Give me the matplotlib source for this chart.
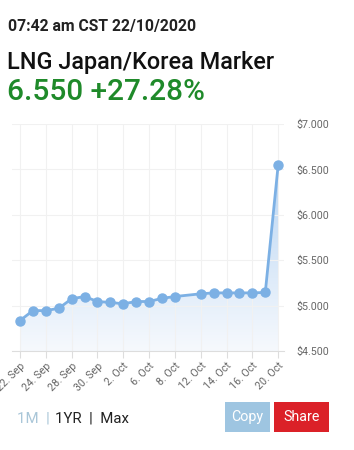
import numpy as np
import matplotlib
import matplotlib.pyplot as plt
from matplotlib.patches import FancyBboxPatch, Polygon
from matplotlib.colors import LinearSegmentedColormap

matplotlib.use("Agg")

# business days 22 Sep .. 20 Oct 2020 (9 Oct missing in the data)
day_idx = [0, 1, 2, 3, 4, 5, 6, 7, 8, 9, 10, 11, 12, 14, 15, 16, 17, 18, 19, 20]
prices = [4.835, 4.945, 4.945, 4.97, 5.075, 5.10, 5.045, 5.035, 5.02, 5.045,
          5.045, 5.08, 5.10, 5.13, 5.14, 5.14, 5.14, 5.14, 5.145, 6.55]
tick_pos = [0, 2, 4, 6, 8, 10, 12, 14, 16, 18, 20]
tick_labels = ["22. Sep", "24. Sep", "28. Sep", "30. Sep", "2. Oct", "6. Oct",
               "8. Oct", "12. Oct", "14. Oct", "16. Oct", "20. Oct"]
y_ticks = [4.5, 5.0, 5.5, 6.0, 6.5, 7.0]

W, H = 354, 450
fig = plt.figure(figsize=(W / 100, H / 100), dpi=100)
plt.rcParams["font.family"] = ["Roboto", "DejaVu Sans"]


def px_box(x0, y0, x1, y1):
    return [x0 / W, 1 - y1 / H, (x1 - x0) / W, (y1 - y0) / H]


# header text
fig.text(8 / W, 1 - 27 / H, "07:42 am CST 22/10/2020", fontsize=11.3,
         fontweight="bold", color="#222222", va="center")
fig.text(7 / W, 1 - 63 / H, "LNG Japan/Korea Marker", fontsize=16.9,
         fontweight="medium", color="#111111", va="center")
fig.text(7 / W, 1 - 92 / H, "6.550 +27.28%", fontsize=21.4,
         fontweight="medium", color="#1f8a2a", va="center")

# chart
ax = fig.add_axes(px_box(12, 124, 284, 351))
x = np.array(day_idx, dtype=float)
y = np.array(prices)
line_c = "#7cb0e4"

ax.set_xlim(-0.62, 20.45)
ax.set_ylim(4.5, 7.0)

# gradient fill under the line
grad = np.linspace(0, 1, 256).reshape(-1, 1)
cmap = LinearSegmentedColormap.from_list("g", ["#f6f9fd", "#9cc4ee"])
im = ax.imshow(grad, extent=[x[0], x[-1], 4.5, 7.0], origin="lower",
               aspect="auto", cmap=cmap, vmin=0, vmax=1.2, zorder=1)
verts = np.vstack([[x[0], 4.5], np.column_stack([x, y]), [x[-1], 4.5]])
clip = Polygon(verts, closed=True, transform=ax.transData, facecolor="none",
               edgecolor="none")
ax.add_patch(clip)
im.set_clip_path(clip)

ax.plot(x, y, color=line_c, lw=2, zorder=3)
ax.plot(x, y, "o", color=line_c, ms=6.5, zorder=4, mec=line_c)

ax.set_yticks(y_ticks)
ax.set_yticklabels([f"${v:.3f}" for v in y_ticks])
ax.yaxis.tick_right()
ax.tick_params(axis="y", length=0, labelsize=7.7, labelcolor="#666666", pad=9)
ax.set_xticks(tick_pos)
ax.set_xticklabels(tick_labels, rotation=45, ha="right", rotation_mode="anchor")
ax.tick_params(axis="x", length=5, color="#dddddd", labelsize=7.7,
               labelcolor="#666666", pad=2)
ax.grid(True, color="#f1f1f1", lw=0.8, zorder=0)
for side in ["top", "right", "left"]:
    ax.spines[side].set_visible(False)
ax.spines["bottom"].set_color("#dddddd")

# footer
fig.text(17 / W, 1 - 418 / H, "1M  |", fontsize=10.8, color="#a9c6d8", va="center")
fig.text(55 / W, 1 - 418 / H, "1YR  |  Max", fontsize=10.8, color="#222222",
         va="center")

for (x0, x1, fc, label) in [(225, 270, "#9ec5e1", "Copy"),
                            (274, 329, "#db2128", "Share")]:
    bax = fig.add_axes(px_box(x0, 402, x1, 432))
    bax.set_xlim(0, 1)
    bax.set_ylim(0, 1)
    bax.axis("off")
    bax.add_patch(FancyBboxPatch((0, 0), 1, 1, boxstyle="square,pad=0",
                                 facecolor=fc, edgecolor="none"))
    bax.text(0.5, 0.5, label, color="white", fontsize=10.3, ha="center",
             va="center")

fig.savefig("out.png", dpi=100)
plt.close()
